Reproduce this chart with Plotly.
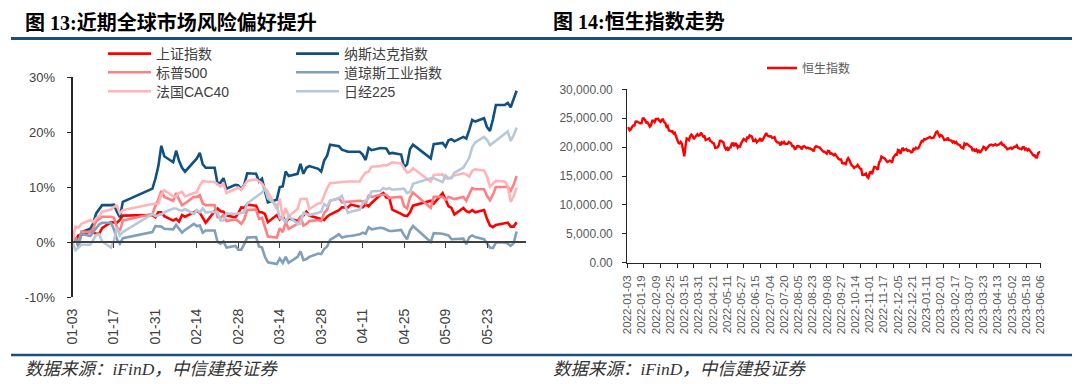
import plotly.graph_objects as go
import pandas as pd

# the page body adds an 8 px margin, so the figure is drawn 8 px smaller and every
# reference pixel position is shifted by that offset
OFF = 8
W, H = 1080 - OFF, 384 - OFF

# ---------------- Figure 13 data: cumulative change since 2023-01-03 (%) ----------------
cn_dates = [
    "2023-01-03", "2023-01-04", "2023-01-05", "2023-01-06", "2023-01-09", "2023-01-10", "2023-01-11", "2023-01-12",
    "2023-01-13", "2023-01-16", "2023-01-17", "2023-01-18", "2023-01-19", "2023-01-20", "2023-01-30", "2023-01-31",
    "2023-02-01", "2023-02-02", "2023-02-03", "2023-02-06", "2023-02-07", "2023-02-08", "2023-02-09", "2023-02-10",
    "2023-02-13", "2023-02-14", "2023-02-15", "2023-02-16", "2023-02-17", "2023-02-20", "2023-02-21", "2023-02-22",
    "2023-02-23", "2023-02-24", "2023-02-27", "2023-02-28",
    "2023-03-01", "2023-03-02", "2023-03-03", "2023-03-06", "2023-03-07", "2023-03-08", "2023-03-09", "2023-03-10",
    "2023-03-13", "2023-03-14", "2023-03-15", "2023-03-16", "2023-03-17", "2023-03-20", "2023-03-21", "2023-03-22",
    "2023-03-23", "2023-03-24", "2023-03-27", "2023-03-28", "2023-03-29", "2023-03-30", "2023-03-31",
    "2023-04-03", "2023-04-04", "2023-04-06", "2023-04-07", "2023-04-10", "2023-04-11", "2023-04-12", "2023-04-13",
    "2023-04-14", "2023-04-17", "2023-04-18", "2023-04-19", "2023-04-20", "2023-04-21", "2023-04-24", "2023-04-25",
    "2023-04-26", "2023-04-27", "2023-04-28",
    "2023-05-04", "2023-05-05", "2023-05-08", "2023-05-09", "2023-05-10", "2023-05-11", "2023-05-12", "2023-05-15",
    "2023-05-16", "2023-05-17", "2023-05-18", "2023-05-19", "2023-05-22", "2023-05-23", "2023-05-24", "2023-05-25",
    "2023-05-26", "2023-05-29", "2023-05-30", "2023-05-31",
    "2023-06-01", "2023-06-02",
]

sse = [
    0.0, 0.2, 1.2, 1.3, 1.9, 1.7, 1.5, 1.5, 2.5, 3.6, 3.5, 3.5, 4.0, 4.8, 4.9, 4.5,
    5.4, 5.4, 4.7, 3.9, 4.2, 3.7, 4.9, 4.6, 5.4, 5.7, 5.3, 4.3, 3.5, 5.6, 6.1, 5.6, 5.5, 4.8, 4.5, 5.2,
    6.3, 6.2, 6.8, 6.6, 5.4, 5.4, 5.1, 3.6, 4.9, 4.1, 4.7, 3.5, 4.3, 3.8, 4.5, 4.8, 5.5, 4.8, 4.3, 4.1, 4.0, 4.6, 5.0,
    5.8, 6.3, 6.3, 6.8, 6.4, 6.3, 6.8, 6.5, 7.1, 8.6, 8.9, 8.1, 8.0, 5.9, 5.1, 4.8, 4.7, 5.4, 6.6,
    7.5, 7.0, 8.9, 7.7, 6.5, 6.2, 5.0, 6.2, 5.6, 5.4, 5.8, 5.4, 5.8, 4.2, 3.0, 2.7, 3.1, 3.4, 3.5, 2.8,
    2.8, 3.6,
]
nasdaq = [
    0.0, 0.7, -0.8, 1.8, 2.4, 3.4, 5.2, 5.9, 6.7, 6.7, 6.8, 5.5, 4.5, 7.3, 9.7, 11.5,
    13.8, 17.5, 15.6, 14.5, 16.6, 14.7, 13.5, 12.8, 14.5, 15.2, 16.2, 14.1, 13.5, 13.5, 10.6, 10.8, 11.6, 9.7, 10.4, 10.3,
    9.6, 10.4, 12.5, 12.4, 11.0, 11.5, 9.2, 7.2, 7.7, 10.0, 10.1, 12.8, 12.0, 12.4, 14.2, 12.4, 13.5, 13.8, 13.3, 12.8, 14.8, 15.7, 17.7,
    17.4, 16.8, 16.4, 16.4, 16.4, 15.9, 14.9, 17.1, 16.7, 17.1, 17.0, 17.0, 16.1, 16.2, 15.9, 13.6, 14.1, 16.9, 17.7,
    15.2, 17.8, 18.0, 17.3, 18.5, 18.7, 18.3, 19.1, 18.8, 20.4, 22.2, 21.9, 22.5, 20.9, 20.2, 22.3, 24.9, 24.9, 25.3, 24.5,
    26.1, 27.5,
]
spx = [
    0.0, 0.8, -0.4, 1.9, 1.8, 2.5, 3.8, 4.2, 4.6, 4.6, 4.4, 2.7, 2.0, 3.9, 5.1, 6.6,
    7.7, 9.3, 8.2, 7.5, 8.9, 7.7, 6.7, 7.0, 8.2, 8.2, 8.5, 7.0, 6.7, 6.7, 4.5, 4.4, 4.9, 3.8, 4.1, 3.8,
    3.3, 4.1, 5.8, 5.9, 4.2, 4.4, 2.5, 1.0, 0.8, 2.5, 1.8, 3.6, 2.4, 3.3, 4.7, 3.0, 3.3, 3.8, 4.0, 3.8, 5.3, 5.9, 7.5,
    7.9, 7.2, 7.3, 7.3, 7.5, 7.4, 7.0, 8.4, 8.2, 8.6, 8.6, 8.6, 8.0, 8.1, 8.2, 6.5, 6.1, 8.1, 9.0,
    6.2, 8.2, 8.2, 7.7, 8.2, 8.0, 7.8, 8.2, 7.5, 8.7, 9.8, 9.6, 9.6, 8.4, 7.6, 8.6, 10.0, 10.0, 10.0, 9.3,
    10.4, 12.0,
]
dji = [
    0.0, 0.4, -0.6, 1.5, 1.1, 1.7, 2.5, 3.2, 3.5, 3.5, 2.3, 0.5, -0.3, 0.7, 1.8, 2.9,
    2.9, 2.8, 2.4, 2.3, 3.1, 2.5, 1.7, 2.2, 3.3, 2.9, 3.0, 1.7, 2.1, 2.1, 0.0, -0.3, 0.1, -1.0, -0.7, -1.4,
    -1.4, -0.4, 0.8, 0.9, -0.8, -1.0, -2.7, -3.7, -4.0, -3.0, -3.8, -2.7, -3.8, -2.7, -1.7, -3.3, -3.1, -2.7, -2.1, -2.2, -1.3, -0.8, 0.4,
    1.4, 0.8, 1.1, 1.1, 1.4, 1.7, 1.5, 2.7, 2.3, 2.6, 2.5, 2.3, 2.0, 2.0, 2.2, 1.2, 0.5, 2.1, 2.9,
    0.0, 1.6, 1.5, 1.3, 1.2, 0.5, 0.5, 0.6, -0.4, 0.9, 1.2, 0.9, 0.5, -0.2, -1.0, -1.1, -0.1, -0.1, -0.3, -0.7,
    -0.2, 1.9,
]
cac40 = [
    0.0, 2.8, 2.6, 3.3, 4.0, 3.6, 4.3, 4.7, 5.5, 5.9, 6.4, 6.6, 5.2, 5.8, 6.9, 7.0,
    7.0, 8.6, 9.4, 8.3, 8.2, 8.9, 9.1, 8.3, 9.0, 9.1, 10.3, 11.1, 11.0, 10.9, 10.5, 10.1, 10.6, 8.9, 9.6, 9.9,
    9.5, 10.2, 11.1, 11.4, 11.0, 10.6, 9.8, 9.1, 6.0, 7.9, 4.3, 6.2, 4.7, 6.0, 7.8, 7.8, 7.9, 6.0, 7.0, 7.1, 8.6, 9.8, 10.7,
    10.9, 10.9, 11.0, 11.0, 11.0, 11.9, 12.6, 12.8, 13.7, 13.8, 14.0, 13.9, 14.2, 14.5, 14.3, 13.4, 12.6, 12.8, 13.4,
    11.0, 12.2, 12.3, 11.6, 11.5, 11.8, 12.1, 12.5, 12.3, 11.9, 12.9, 13.2, 13.0, 11.9, 10.1, 10.6, 11.1, 11.0, 10.2, 7.3,
    8.3, 9.9,
]
nikkei = [
    0.0, -1.5, -1.0, -0.5, -0.5, 0.3, 1.3, 1.4, 0.1, -1.0, 0.2, 2.7, 1.2, 1.8, 5.1, 4.7,
    4.8, 5.0, 5.4, 6.1, 6.1, 5.8, 5.7, 6.0, 5.1, 5.8, 5.4, 6.1, 5.4, 5.5, 5.3, 3.9, 3.9, 5.2, 5.1, 5.2,
    5.4, 5.4, 7.0, 8.2, 8.5, 9.0, 9.7, 7.9, 6.7, 4.3, 4.3, 3.5, 4.7, 3.3, 3.3, 5.3, 5.1, 4.9, 5.3, 5.5, 6.9, 6.5, 7.5,
    8.0, 8.4, 5.3, 5.5, 5.9, 7.0, 7.6, 7.9, 9.2, 9.3, 9.8, 9.6, 9.8, 9.5, 9.6, 9.7, 8.9, 9.1, 10.6,
    11.6, 11.6, 10.9, 12.1, 11.6, 11.6, 12.6, 13.5, 14.4, 15.3, 17.2, 18.1, 19.1, 18.6, 17.6, 18.0, 18.5, 19.7, 20.1, 18.4,
    19.4, 20.8,
]
left_tick_dates = ["2023-01-03", "2023-01-17", "2023-01-31", "2023-02-14", "2023-02-28", "2023-03-14",
                   "2023-03-28", "2023-04-11", "2023-04-25", "2023-05-09", "2023-05-23"]
left_tick_text = ["01-03", "01-17", "01-31", "02-14", "02-28", "03-14", "03-28", "04-11", "04-25", "05-09", "05-23"]
left_y_ticks = [-10, 0, 10, 20, 30]
left_y_text = ["-10%", "0%", "10%", "20%", "30%"]

# ---------------- Figure 14 data: Hang Seng Index, daily close ----------------
hk_holidays = [
    "2022-02-01", "2022-02-02", "2022-02-03", "2022-04-05", "2022-04-15", "2022-04-18", "2022-05-02",
    "2022-05-09", "2022-06-03", "2022-07-01", "2022-09-12", "2022-10-04", "2022-12-26", "2022-12-27",
    "2023-01-02", "2023-01-23", "2023-01-24", "2023-01-25", "2023-04-05", "2023-04-07", "2023-04-10",
    "2023-05-01", "2023-05-26",
]
hsi_2022 = [
    # Jan
    23275, 23289, 22907, 23072, 23493, 23746, 23739, 24402, 24429, 24383, 24218, 24113, 24128, 24952, 24966,
    24656, 24244, 24290, 23807, 23550, 23802,
    # Feb
    24573, 24580, 24329, 24830, 24925, 24906, 24557, 24356, 24718, 24793, 24328, 24171, 23520, 23660, 22902,
    22767, 22713,
    # Mar
    22761, 22344, 22468, 21905, 21058, 20766, 20628, 20891, 20554, 19532, 18415, 20088, 21501, 21412, 21221,
    21889, 22154, 21946, 21405, 21685, 21928, 22232, 21997,
    # Apr
    22039, 22502, 22081, 21808, 21872, 21209, 21320, 21374, 21519, 21027, 20945, 20683, 20639, 19870, 19934,
    19947, 20276, 21089,
    # May
    21101, 20870, 20794, 20002, 19634, 19825, 19380, 19899, 19950, 20603, 20644, 20121, 20718, 20471, 19924,
    20172, 20116, 20698, 21124, 21415,
    # Jun
    21295, 21083, 21654, 21576, 22014, 21869, 21806, 21068, 21068, 21308, 20846, 21076, 21164, 21560, 21009,
    21274, 21720, 22230, 22419, 21997, 21860,
    # Jul
    21830, 21854, 21587, 21644, 21726, 21125, 20845, 20798, 20751, 20297, 20846, 20662, 20891, 20575, 20610,
    20563, 20906, 20671, 20622, 20157,
    # Aug
    20166, 19690, 19768, 20174, 20202, 20046, 20003, 19610, 20082, 20176, 20041, 19830, 19923, 19764, 19773,
    19657, 19503, 19268, 19969, 20170, 20023, 19949, 19954,
    # Sep
    19597, 19453, 19225, 19203, 19044, 18855, 19362, 19326, 18848, 18930, 18762, 18566, 18782, 18445, 18148,
    17933, 17856, 17861, 17251, 17166, 17223,
    # Oct
    17080, 17740, 18088, 17741, 17217, 16833, 16702, 16389, 16588, 16613, 16915, 16512, 16281, 16212, 15180,
    15166, 15318, 15428, 14864, 14687,
    # Nov
    15455, 15828, 15339, 16161, 16596, 16558, 16359, 16082, 17326, 17620, 18344, 18257, 18046, 17993, 17656,
    17425, 17524, 17661, 17574, 17298, 18205, 18597,
    # Dec
    18736, 18676, 19519, 19441, 18815, 19450, 19901, 19464, 19597, 19674, 19369, 19451, 19353, 19095, 19161,
    19680, 19594, 19899, 19742, 19782,
]
hsi_2023 = [
    # Jan
    20145, 20793, 21052, 20992, 21388, 21331, 21436, 21514, 21739, 21746, 21578, 21678, 21651, 22045, 22566,
    22689, 22069, 21842,
    # Feb
    22072, 21958, 21660, 21222, 21298, 21283, 21625, 21190, 21164, 21113, 20812, 20988, 20719, 20887, 20529,
    20423, 20351, 20010, 19943, 19786,
    # Mar
    20620, 20429, 20568, 20454, 20211, 20051, 19926, 19320, 19696, 19248, 19539, 19204, 19519, 19001, 19259,
    19591, 20050, 19916, 19567, 19785, 20192, 20309, 20400,
    # Apr
    20409, 20275, 20332, 20485, 20309, 20344, 20438, 20650, 20782, 20367, 20397, 20075, 19959, 19617, 19757,
    19841, 19895,
    # May
    19699, 19941, 20049, 20049, 20297, 19868, 19762, 19744, 19628, 19971, 19978, 19560, 19727, 19451, 19678,
    19431, 19116, 18746, 18551, 18595, 18234,
    # Jun
    18216, 18950, 19109, 19099,
]
right_label_dates = [
    "2022-01-03", "2022-01-19", "2022-02-09", "2022-02-25", "2022-03-15", "2022-03-31", "2022-04-21",
    "2022-05-11", "2022-05-27", "2022-06-15", "2022-07-04", "2022-07-20", "2022-08-05", "2022-08-23",
    "2022-09-08", "2022-09-27", "2022-10-14", "2022-11-01", "2022-11-17", "2022-12-05", "2022-12-21",
    "2023-01-11", "2023-02-01", "2023-02-17", "2023-03-07", "2023-03-23", "2023-04-13", "2023-05-02",
    "2023-05-18", "2023-06-06",
]
right_y_ticks = [0, 5000, 10000, 15000, 20000, 25000, 30000]

# trading calendar of Hong Kong (weekdays minus exchange holidays)
hk_days = [d.strftime("%Y-%m-%d") for d in pd.bdate_range("2022-01-03", "2023-06-06")
           if d.strftime("%Y-%m-%d") not in set(hk_holidays)]
hsi_values = hsi_2022 + hsi_2023
n = min(len(hk_days), len(hsi_values))
hk_days, hsi_values = hk_days[:n], hsi_values[:n]

# ---------------- styling ----------------
SANS = "Liberation Sans, Noto Sans CJK SC, sans-serif"
TITLE_FONT = "Liberation Serif, Noto Sans CJK SC, serif"
BLUE_RULE = "#1A4F7E"

series = [
    ("上证指数", sse, "#FF0000", "legend"),
    ("纳斯达克指数", nasdaq, "#12507F", "legend"),
    ("标普500", spx, "#FF7F82", "legend2"),
    ("道琼斯工业指数", dji, "#7F9FBA", "legend2"),
    ("法国CAC40", cac40, "#FFB5B7", "legend3"),
    ("日经225", nikkei, "#B6C9DA", "legend3"),
]

fig = go.Figure()
for name, vals, color, lg in series:
    fig.add_trace(go.Scatter(
        x=cn_dates, y=vals, mode="lines", name=name,
        line=dict(color=color, width=2.6), legend=lg, xaxis="x", yaxis="y",
    ))

# helper (empty) trace so the zero-line axis of the left chart is drawn
fig.add_trace(go.Scatter(x=[], y=[], xaxis="x3", yaxis="y", showlegend=False, hoverinfo="skip"))

fig.add_trace(go.Scatter(
    x=hk_days, y=hsi_values, mode="lines", name="恒生指数",
    line=dict(color="#FF0000", width=2.4), legend="legend4", xaxis="x2", yaxis="y2",
))
fig.add_trace(go.Scatter(x=[], y=[], xaxis="x4", yaxis="y2", showlegend=False, hoverinfo="skip"))

# reference-pixel -> paper-fraction helpers
def px_x(p):
    return (p - OFF) / W

def px_y(p):
    return 1 - (p - OFF) / H

left_x_dom = [px_x(72.5), px_x(525.5)]
left_y_dom = [px_y(297), px_y(77)]
left_range = ["2023-01-03", "2023-06-05"]
zero_pos = left_y_dom[0] + (left_y_dom[1] - left_y_dom[0]) * (0 - (-10)) / 40

right_x_dom = [px_x(627.3), px_x(1040.5)]
right_y_dom = [px_y(262.7), px_y(89.3)]

fig.update_layout(
    width=W, height=H, autosize=False,
    margin=dict(l=0, r=0, t=0, b=0, autoexpand=False),
    paper_bgcolor="white", plot_bgcolor="rgba(0,0,0,0)",
    showlegend=True,
    xaxis=dict(
        domain=left_x_dom, anchor="y", type="date", range=left_range, automargin=False,
        showline=False, showgrid=False, zeroline=False, ticks="",
        tickmode="array", tickvals=left_tick_dates, ticktext=left_tick_text,
        tickangle=-90, tickfont=dict(family=SANS, size=14, color="#404040"),
        ticklabelstandoff=8,
    ),
    xaxis3=dict(
        domain=left_x_dom, anchor="free", position=zero_pos, overlaying="x", automargin=False,
        type="date", range=left_range, side="bottom",
        showline=True, linecolor="#404040", linewidth=1.6,
        ticks="outside", ticklen=5, tickwidth=1.4, tickcolor="#404040",
        tickmode="array", tickvals=left_tick_dates, showticklabels=False,
        showgrid=False, zeroline=False,
    ),
    yaxis=dict(
        domain=left_y_dom, anchor="x", range=[-10, 30], automargin=False,
        tickmode="array", tickvals=left_y_ticks, ticktext=left_y_text,
        showline=True, linecolor="#262626", linewidth=1.6,
        ticks="outside", ticklen=4, tickwidth=1.4, tickcolor="#262626",
        showgrid=False, zeroline=False,
        tickfont=dict(family=SANS, size=13, color="#404040"),
        ticklabelstandoff=9,
    ),
    xaxis2=dict(
        domain=right_x_dom, anchor="y2", type="category", range=[0, n - 1], automargin=False,
        showline=True, linecolor="#262626", linewidth=1.2,
        ticks="", showgrid=False, zeroline=False,
        tickmode="array", tickvals=right_label_dates, ticktext=right_label_dates,
        tickangle=-90, tickfont=dict(family=SANS, size=11.5, color="#595959"),
        ticklabelstandoff=7,
    ),
    xaxis4=dict(
        domain=right_x_dom, anchor="y2", overlaying="x2", type="linear", range=[0, n - 1], automargin=False,
        showline=False, ticks="outside", ticklen=4, tickwidth=1.2, tickcolor="#262626",
        tickmode="array", tickvals=list(range(0, n, 14)) + [n - 1], showticklabels=False,
        showgrid=False, zeroline=False,
    ),
    yaxis2=dict(
        domain=right_y_dom, anchor="x2", range=[0, 30000], automargin=False,
        tickmode="array", tickvals=right_y_ticks, tickformat=",.2f",
        showline=True, linecolor="#262626", linewidth=1.2,
        ticks="outside", ticklen=4, tickwidth=1.2, tickcolor="#262626",
        showgrid=False, zeroline=False,
        tickfont=dict(family=SANS, size=12, color="#595959"),
        ticklabelstandoff=7,
    ),
)

legend_common = dict(
    orientation="h", xanchor="left", yanchor="middle", itemwidth=43,
    entrywidth=130, entrywidthmode="pixels", bgcolor="rgba(0,0,0,0)",
    font=dict(family=SANS, size=14, color="#404040"), traceorder="normal",
)
fig.update_layout(
    legend=dict(x=px_x(103), y=px_y(54), **legend_common),
    legend2=dict(x=px_x(103), y=px_y(72.7), **legend_common),
    legend3=dict(x=px_x(103), y=px_y(91.7), **legend_common),
    legend4=dict(orientation="h", xanchor="left", yanchor="middle", x=px_x(762), y=px_y(68),
                 bgcolor="rgba(0,0,0,0)", font=dict(family=SANS, size=12, color="#595959")),
)

# titles, rules and source notes
annotations = [
    dict(text="<b>图 13:近期全球市场风险偏好提升</b>", x=px_x(23), y=px_y(22)),
    dict(text="<b>图 14:恒生指数走势</b>", x=px_x(551), y=px_y(22)),
]
for a in annotations:
    a.update(xref="paper", yref="paper", xanchor="left", yanchor="middle", showarrow=False,
             font=dict(family=TITLE_FONT, size=20, color="#000000"))
for sx in (23, 551):
    annotations.append(dict(
        text="<i>数据来源：iFinD，中信建投证券</i>", x=px_x(sx), y=px_y(369),
        xref="paper", yref="paper", xanchor="left", yanchor="middle", showarrow=False,
        font=dict(family=TITLE_FONT, size=17.5, color="#333333"),
    ))
fig.update_layout(annotations=annotations)

shapes = []
for x0, x1 in ((px_x(11), px_x(540)), (px_x(540), px_x(1078))):
    shapes.append(dict(type="line", xref="paper", yref="paper", x0=x0, x1=x1, y0=px_y(38.5), y1=px_y(38.5),
                       line=dict(color=BLUE_RULE, width=3)))
    shapes.append(dict(type="line", xref="paper", yref="paper", x0=x0, x1=x1, y0=px_y(355), y1=px_y(355),
                       line=dict(color=BLUE_RULE, width=2.5)))
fig.update_layout(shapes=shapes)

fig.write_html("out.html")
